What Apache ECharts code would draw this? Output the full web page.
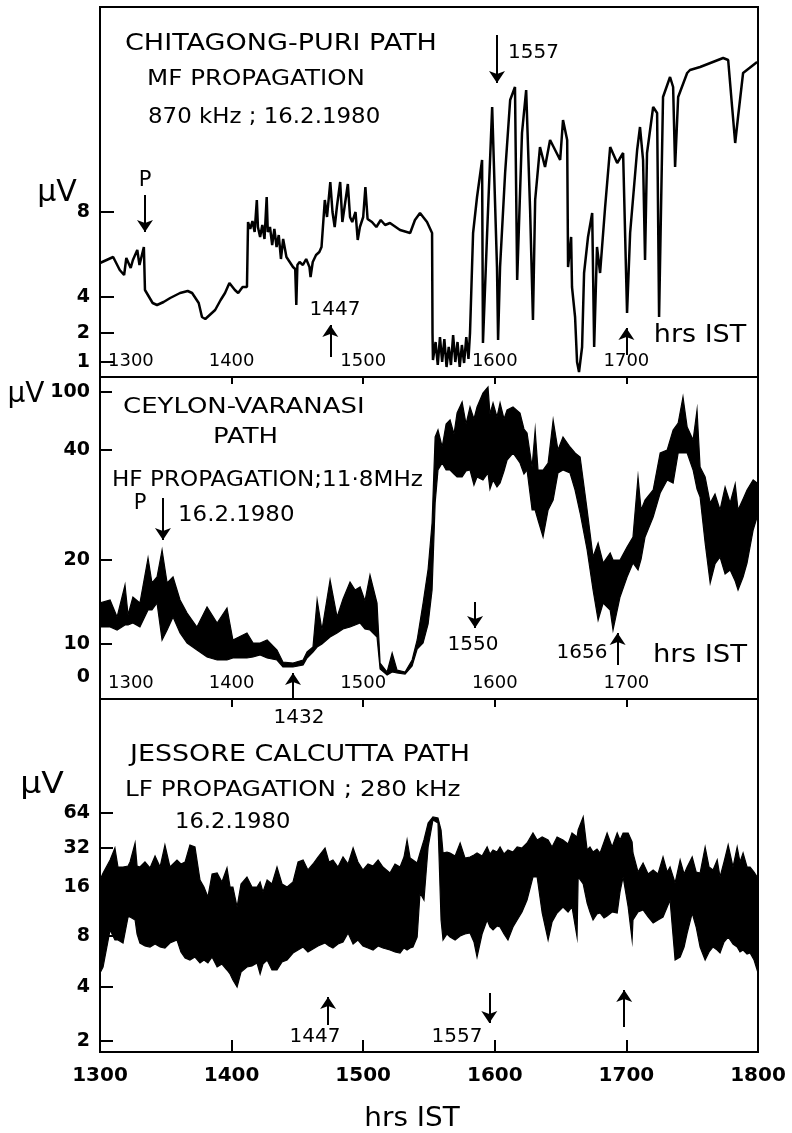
<!DOCTYPE html>
<html><head><meta charset="utf-8">
<script src="https://cdn.jsdelivr.net/npm/echarts@6/dist/echarts.min.js"></script>
<style>html,body{margin:0;padding:0;background:#fff}#c{width:792px;height:1133px}</style>
</head><body><div id="c"></div>
<script>
// time axis: minutes after 1300 IST ; y: pen deflection (chart units) with µV calibration ticks
const xLabelVals = [0, 60, 120, 180, 240, 300];
const xTickVals = [60, 120, 180, 240];

// Panel 1: Chitagong-Puri MF
const p1Time = [0,6,9,11,12,14,15,17,18,20,20.5,24,26,29,32,36.5,40,42,45,46.5,48,50,52.5,55,57,59,61.5,63,65,67,67.5,68.5,69.5,70.5,71.5,72,73,74,75,76,76.5,77.5,78.5,79.5,80.5,81.5,82.5,83.5,85,86.5,88,89,89.5,90,91,92.5,94,95.5,96,97,98.5,100,101,102.5,103.5,105,106,107,108,109.5,110.5,111.5,113,114,115,116.5,117.5,118.5,120,121,122,124,126,128,130,132.2,136.8,141.4,143.6,145.9,149.1,151.4,151.6,151.8,153,154,155,156,157,158,159,160,161,162,163,164,165,166,167,168,168.7,170.1,171.9,174.2,174.6,176.5,178.8,181,181.5,182.4,184.7,187,189.2,190.2,192.4,194.3,196.1,197.4,198.4,200.6,202.9,205.2,207.5,209.8,211.1,213,213.4,214.8,215.2,216.6,217.5,218.4,219.8,220.7,222.5,224.4,225.3,226.6,228,230.3,232.6,235.8,238.5,240.3,241.7,244.9,246.2,247.6,248.5,249.4,252.2,254,254.9,256.7,259.9,261.3,262.2,263.6,267.7,269,273.6,284.1,286.4,288.2,289.6,290.9,293.2,299.6];
const p1Defl = [114,120,107,102,119,109,117,127,112,130,87,74,72,75,79,84,86,84,74,60,58,62,67,77,84,94,87,84,90,90,155,148,156,145,177,150,140,152,138,180,145,150,132,148,130,142,118,138,120,115,110,108,72,112,115,112,118,110,100,115,122,125,130,177,160,195,165,150,170,195,155,170,193,160,155,165,137,150,160,190,158,155,150,157,152,154,147,144,157,164,155,144,44,17,35,12,40,15,38,10,30,12,42,15,35,10,32,14,40,18,44,144,180,217,34,144,270,110,37,110,204,277,290,97,244,287,167,57,177,230,210,237,227,217,257,237,110,140,90,60,15,5,30,104,140,164,30,130,104,170,230,214,224,64,144,227,250,217,117,224,270,264,60,280,300,290,210,280,304,307,310,319,317,270,234,260,304,315];
const p1TickDefl = [15, 44, 80, 165];
const p1TickLab = ['1', '2', '4', '8'];
const p1Arrows = [[20.5,182,145],[105,20,52],[181,342,294],[240,22,49]];

// Panel 2: Ceylon-Varanasi HF (band: upper / lower envelope)
const p2Time = [0,4.6,7.8,11.4,12.8,15,18.2,21.9,23.7,26,28.3,30.6,33.3,36.5,39.7,44.2,48.8,53.4,57.9,60.6,67,69.8,73,76.2,80.7,83.4,88,92.6,94.4,97.1,99,101.2,104.9,108.1,110.8,114,116.3,118.6,120.8,123.1,126.3,127.7,130.9,133.2,135.4,139.1,142.3,144.6,147.3,149.6,151.4,152.8,154.1,156,157.8,159.6,161.4,162.8,165.1,166.9,168.7,170.5,171.9,174.6,176.9,177.8,179.2,181,182.4,184.2,185.6,188.3,191.5,193.3,194.7,197,198.4,199.7,202,204.3,206.6,208.8,211.1,214.3,216.6,218.9,222.1,224.8,227.1,229.4,232.6,233.9,237.1,240.3,243,245.3,246.7,248.5,252.2,255.4,258.6,261.3,263.6,265.8,267.7,270.4,272.2,273.6,275.9,278.2,280.4,282.7,285,287.3,289.6,290.9,293.2,295,297.8,299.6];
const p2Upper = [96,99,82,114,84,102,96,141,116,122,149,116,122,99,86,72,92,76,91,59,66,56,56,59,49,37,36,39,47,52,99,69,119,82,100,117,109,112,98,124,96,36,27,46,29,27,39,59,96,130,176,262,269,252,275,279,265,286,297,275,292,280,292,306,312,285,296,282,296,280,289,292,286,270,266,232,269,229,229,236,279,249,262,252,246,242,189,142,156,136,146,139,139,152,162,222,189,199,209,246,249,269,276,302,272,259,289,232,222,196,205,189,212,196,215,189,200,209,219,216];
const p2Lower = [72,72,69,74,74,76,72,89,89,96,59,69,82,66,56,49,42,39,39,41,41,42,44,41,39,32,32,34,41,47,52,55,62,66,70,72,74,76,70,69,62,30,24,27,26,25,33,50,56,75,109,196,229,236,229,229,225,222,222,228,229,214,222,219,226,210,219,212,216,228,239,246,236,225,229,189,189,179,162,189,199,226,229,226,209,186,149,109,79,96,89,69,102,122,136,129,140,162,182,206,219,216,246,246,246,229,210,202,156,116,135,142,125,129,118,109,122,136,169,182];
const p2TickDefl = [55, 139, 249, 307];
const p2LabDefl = [22, 55, 139, 249, 307];
const p2TickLab = ['0', '10', '20', '40', '100'];
const p2Arrows = [[28.7,201,159],[88,1,26],[171,97,71],[236,34,66]];

// Panel 3: Jessore-Calcutta LF
const p3Time = [0,1.4,4.6,6.8,8.2,10.5,12.8,13.7,16,16.9,18.2,20.5,22.8,25.1,27.4,29.6,31.9,35.1,36.9,38.8,41,43.3,45.6,47.4,49.2,51.1,53.4,55.6,57.9,59.3,60.6,62.5,64.3,67,69.3,71.6,73,74.3,76.2,78.4,80.7,83,85.3,88,90.3,92.6,94.8,97.1,99.4,102.6,104.4,106.2,108.5,110.8,113.1,115.4,117.6,119.9,122.2,124.5,126.8,129,132.2,134.5,136.8,138.6,140,141.4,142.7,144.6,145.9,147.7,149.6,151.8,154.1,155.5,156.4,158.2,159.6,161.9,164.2,166.4,168.7,170.5,171.9,174.2,176.5,177.8,179.2,181,182.4,184.2,186,188.3,190.2,192.4,194.7,197.4,199.3,201.6,204.3,206.1,208.4,211.1,213.4,215.2,217.5,218,220.3,222.1,223.4,224.8,226.6,228,229.8,231.2,233.5,235.8,237.1,238.5,240.8,242.6,243,245.3,247.6,249.9,252.2,254.4,256.7,258.6,259.9,262.2,264.5,266.3,267.7,270,271.8,273.6,275.9,277.7,279.5,281.4,282.7,284.5,286.4,288.6,290.5,291.8,293.2,295,296.4,298.2,299.6];
const p3Upper = [172,179,192,204,185,185,186,190,209,186,185,190,184,196,185,207,185,192,188,190,207,205,172,165,155,178,179,170,184,165,165,145,168,175,165,165,170,160,172,168,185,168,165,170,190,192,182,188,195,204,190,192,185,195,188,204,190,182,188,186,192,185,179,188,185,195,212,194,192,189,199,212,229,235,234,222,199,200,199,196,209,194,195,197,199,196,205,198,202,200,205,198,202,200,205,204,209,219,212,215,212,205,215,212,208,219,215,222,235,202,205,200,203,199,210,219,205,219,212,219,219,210,199,180,189,178,182,178,195,180,185,169,192,178,185,195,180,179,205,185,182,192,175,190,207,185,205,190,199,185,185,180,175];
const p3Lower = [79,85,122,112,112,109,135,135,132,118,109,106,105,108,105,104,109,112,100,94,92,95,89,92,89,95,85,88,82,78,72,65,80,85,86,89,78,88,92,82,82,90,92,99,102,105,100,103,106,109,106,104,108,110,119,108,112,106,104,102,106,104,102,100,99,104,102,104,105,115,159,152,205,232,229,132,112,118,115,112,116,118,119,110,95,118,132,125,122,126,125,118,112,125,132,140,152,175,175,139,112,130,139,145,140,145,115,175,168,149,140,132,138,139,134,136,140,139,160,175,145,112,132,140,142,135,129,132,135,145,152,92,95,105,119,139,125,105,92,100,105,102,99,110,115,108,105,100,102,98,99,92,82];
const p3TickDefl = [11, 65, 116, 165, 204, 239];
const p3TickLab = ['2', '4', '8', '16', '32', '64'];
const p3Arrows = [[104,27,55],[177.5,59,29],[239,25,62]];

const FONT = 'DejaVu Sans';
const zip = (a, b) => a.map((v, i) => [v, b[i]]);
const hhmm = v => String(1300 + Math.round(v / 60 * 100));
const arrowLines = arr => arr.map(a => [{coord: [a[0], a[1]]}, {coord: [a[0], a[2]]}]);
const markArrows = arr => ({
  silent: true, symbol: ['none', 'arrow'], symbolSize: 12,
  label: {show: false}, lineStyle: {color: '#000', width: 2, type: 'solid', opacity: 1},
  emphasis: {disabled: true}, data: arrowLines(arr)
});

const grids = [
  {left: 100, width: 658, top: 7, height: 370},
  {left: 100, width: 658, top: 377, height: 322},
  {left: 100, width: 658, top: 699, height: 353}
].map(g => Object.assign(g, {show: true, borderColor: '#000', borderWidth: 2, backgroundColor: 'transparent'}));

function xAx(i, inside, tickInside, tickLen, labVals, fs, margin, bold) {
  return {
    type: 'value', gridIndex: i, min: 0, max: 300, interval: 60,
    axisLine: {show: true, lineStyle: {color: '#000', width: 2}},
    splitLine: {show: false},
    axisTick: {show: true, inside: tickInside, length: tickLen, customValues: xTickVals, lineStyle: {color: '#000', width: 2}},
    axisLabel: {show: true, inside: inside, margin: margin, customValues: labVals,
      formatter: inside ? (v => v === 0 ? '{f|' + hhmm(v) + '}' : hhmm(v)) : hhmm,
      rich: {f: {padding: [0, 0, 0, 8], fontSize: fs, fontFamily: FONT, color: '#000'}},
      color: '#000', fontFamily: FONT, fontSize: fs, fontWeight: bold ? 'bold' : 'normal',
      alignMinLabel: inside ? 'left' : 'center', alignMaxLabel: 'center'}
  };
}
function yAx(i, max, tickVals, labVals, labs, tickLen) {
  return {
    type: 'value', gridIndex: i, min: 0, max: max,
    axisLine: {show: true, lineStyle: {color: '#000', width: 2}},
    splitLine: {show: false},
    axisTick: {show: true, inside: true, length: tickLen, customValues: tickVals, lineStyle: {color: '#000', width: 2}},
    axisLabel: {show: true, margin: 10, customValues: labVals, color: '#000', fontFamily: FONT, fontSize: 19, fontWeight: 'bold',
      formatter: v => { const k = labVals.indexOf(v); return k >= 0 ? labs[k] : ''; }}
  };
}

function band(idx, t, u, l, arrows) {
  const data = t.map((v, i) => [v, u[i], l[i]]);
  return [
    {type: 'custom', xAxisIndex: idx, yAxisIndex: idx, data: data, silent: true, clip: true,
      encode: {x: 0, y: [1, 2]},
      renderItem: function (params, api) {
        if (params.dataIndexInside !== 0) return null;
        const n = params.dataInsideLength;
        const top = [], bot = [];
        for (let j = 0; j < n; j++) {
          top.push(api.coord([api.value(0, j), api.value(1, j)]));
          bot.push(api.coord([api.value(0, j), api.value(2, j)]));
        }
        return {type: 'polygon', shape: {points: top.concat(bot.reverse())},
          style: {fill: '#000', stroke: '#000', lineWidth: 1.2, lineJoin: 'miter', miterLimit: 20}};
      }},
    {type: 'line', xAxisIndex: idx, yAxisIndex: idx, data: [], silent: true, markLine: markArrows(arrows)}
  ];
}

function txt(s, x, y, fs, align, sx) {
  return {type: 'text', x: x, y: y, z: 100, silent: true, scaleX: sx || 1,
    style: {text: s, fontFamily: FONT, fontSize: fs, fill: '#000', align: align || 'left', verticalAlign: 'middle'}};
}

const option = {
  animation: false,
  backgroundColor: '#fff',
  textStyle: {fontFamily: FONT},
  grid: grids,
  xAxis: [
    xAx(0, true, false, 7, [0, 60, 120, 180, 240], 18, 7, false),
    xAx(1, true, false, 8, [0, 60, 120, 180, 240], 18, 7, false),
    xAx(2, false, true, 12, xLabelVals, 20, 14, true)
  ],
  yAxis: [
    yAx(0, 370, p1TickDefl, p1TickDefl, p1TickLab, 14),
    yAx(1, 322, p2TickDefl, p2LabDefl, p2TickLab, 12),
    yAx(2, 353, p3TickDefl, p3TickDefl, p3TickLab, 13)
  ],
  series: [
    {type: 'line', xAxisIndex: 0, yAxisIndex: 0, data: zip(p1Time, p1Defl), symbol: 'none',
      lineStyle: {color: '#000', width: 2.5}, silent: true, markLine: markArrows(p1Arrows)}
  ].concat(band(1, p2Time, p2Upper, p2Lower, p2Arrows), band(2, p3Time, p3Upper, p3Lower, p3Arrows)),
  graphic: [
    txt('CHITAGONG-PURI PATH', 125, 44, 23, 'left', 1.175),
    txt('MF PROPAGATION', 147, 80, 21, 'left', 1.17),
    txt('870 kHz ; 16.2.1980', 148, 118, 21, 'left', 1.09),
    txt('μV', 57, 193, 30, 'center'),
    txt('P', 145, 181, 21, 'center'),
    txt('1447', 335, 310, 20, 'center'),
    txt('1557', 508, 53, 20),
    txt('hrs IST', 700, 335, 25, 'center', 1.08),
    txt('CEYLON-VARANASI', 123, 407, 22, 'left', 1.18),
    txt('PATH', 213, 437, 22, 'left', 1.18),
    txt('HF PROPAGATION;11·8MHz', 112, 481, 21, 'left', 1.10),
    txt('P', 140, 504, 21, 'center'),
    txt('16.2.1980', 178, 516, 21, 'left', 1.09),
    txt('1550', 473, 645, 20, 'center'),
    txt('1656', 582, 653, 20, 'center'),
    txt('hrs IST', 700, 655, 25, 'center', 1.1),
    txt('1432', 299, 718, 20, 'center'),
    txt('μV', 26, 395, 28, 'center'),
    txt('JESSORE CALCUTTA PATH', 130, 755, 23, 'left', 1.17),
    txt('LF PROPAGATION ; 280 kHz', 125, 790, 22, 'left', 1.12),
    txt('16.2.1980', 175, 822, 22, 'left', 1.03),
    txt('μV', 42, 785, 30, 'center', 1.1),
    txt('1447', 315, 1037, 20, 'center'),
    txt('1557', 457, 1037, 20, 'center'),
    txt('hrs IST', 412, 1119, 26, 'center', 1.07)
  ]
};
const chart = echarts.init(document.getElementById('c'), null, {renderer: 'canvas'});
chart.setOption(option);
</script></body></html>
